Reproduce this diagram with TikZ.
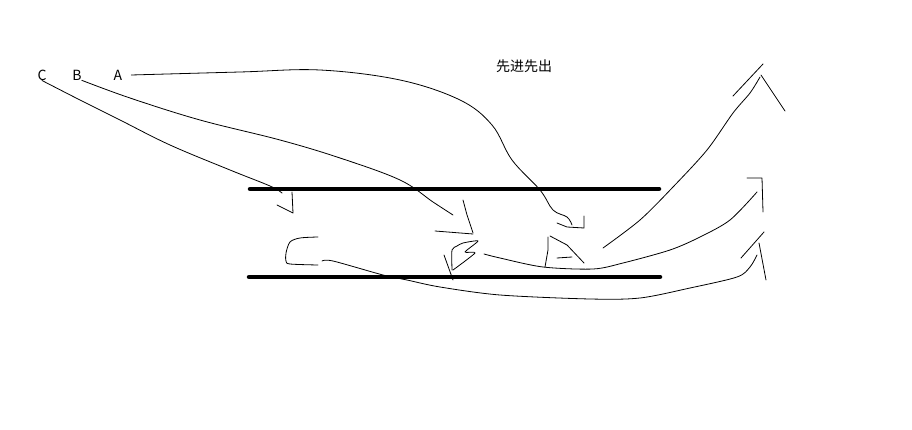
\documentclass[tikz,border=0pt]{standalone}
\usepackage{fontspec}
\setmainfont{Noto Sans CJK SC}
\tikzset{
  pen/.style={line width=0.8pt, line join=round, line cap=round},
  bar/.style={line width=4.5pt, line cap=round},
  letter/.style={font=\fontsize{14}{16}\selectfont, inner sep=0pt}
}

\begin{document}
\begin{tikzpicture}[x=1pt, y=-1pt]
      \useasboundingbox (0,0) rectangle (912,430);
      \node[letter] (C) at (42,75) {C};
      \node[letter] (B) at (77,75) {B};
      \node[letter, outer sep=9pt] (A) at (118,75) {A};
      \node[letter] (fifo) at (524,66) {先进先出};
      \draw[bar] (250,189) -- (659,189);
      \draw[bar] (249,277) -- (660,277);
      \draw[pen] plot[smooth, tension=0.6] coordinates {(A.east) (240,72) (320,70) (400,80) (460,100) (492,125) (512,160) (540,190) (553,210) (567,217) (572,225)};
      \draw[pen] (557,223) -- (567,227) -- (584,228) -- (584,216);
      \draw[pen] plot[smooth, tension=0.6] coordinates {(B.south east) (130,98) (200,120) (280,140) (340,158) (400,180) (433,202) (453,215)};
      \draw[pen] (463,200) -- (467,215) -- (473,233);
      \draw[pen] (435,231) -- (473,234);
      \draw[pen] plot[smooth, tension=0.6] coordinates {(C.south) (80,100) (120,120) (170,145) (230,170) (270,186) (282,193)};
      \draw[pen] (292,192) -- (293,213) -- (277,205);
      \draw[pen] plot[smooth, tension=0.5] coordinates {(318,237) (300,238) (290,242) (286,253) (286,261) (290,264) (318,265)};
      \draw[pen] plot[smooth, tension=0.5] coordinates {(322,261) (333,261) (383,275) (407,280) (440,287) (500,295) (590,299) (640,298) (690,288) (737,277) (750,267) (757,255)};
      \draw[pen] (741,258) -- (764,232);
      \draw[pen] (759,243) -- (766,280);
      \draw[pen] plot[smooth, tension=0.4] coordinates {(452,270) (452,250) (457,246) (463,243) (478,241) (465,252) (475,253) (453,270)};
      \draw[pen] (444,255) -- (453,280);
      \draw[pen] plot[smooth, tension=0.5] coordinates {(484,254) (500,258) (543,267) (593,269) (623,263) (670,250) (700,237) (730,220) (757,192)};
      \draw[pen] (747,178) -- (762,178) -- (763,212);
      \draw[pen] (548,237) -- (548,250) -- (545,267);
      \draw[pen] (550,236) -- (567,245) -- (584,263);
      \draw[pen] (557,258) -- (572,257);
      \draw[pen] plot[smooth, tension=0.5] coordinates {(603,248) (640,220) (673,187) (707,150) (733,113) (750,93) (760,77)};
      \draw[pen] (733,96) -- (763,64);
      \draw[pen] (761,75) -- (785,111);
    \end{tikzpicture}
\end{document}
